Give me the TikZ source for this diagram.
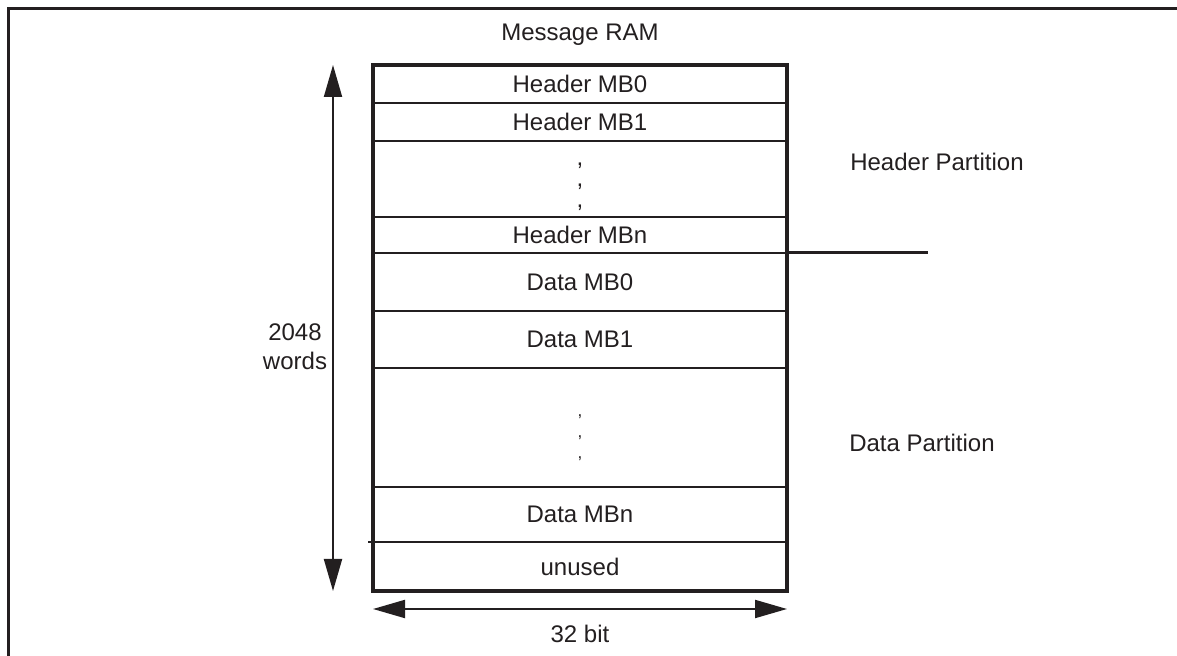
\documentclass[tikz,border=0pt]{standalone}
\usepackage{fontspec}
\setmainfont{Liberation Sans}
\usepackage{tikz}
\usepackage{xcolor}
\usetikzlibrary{positioning, arrows.meta}
\definecolor{ink}{HTML}{231F20}
\tikzset{row/.style={draw=ink, line width=0.8pt, minimum width=207pt, inner sep=0pt, outer sep=0pt, text=ink},
label/.style={text=ink, align=center, inner sep=0pt},
dim/.style={draw=ink, line width=1pt, {Triangle[length=16pt,width=9pt]}-{Triangle[length=16pt,width=9pt]}}
}

\begin{document}
\begin{tikzpicture}[x=0.5pt, y=-0.5pt, font=\fontsize{12}{14.5}\selectfont]
\useasboundingbox (0,0) rectangle (1177,656);
% outer frame
\draw[ink, line width=1.5pt] (8,656) -- (8,9) -- (1200,9);
% rows of the message RAM
\node[row, minimum height=19pt] (hmb0) at (580,84) {Header MB0};
\node[row, minimum height=19pt, below=0pt of hmb0] (hmb1) {Header MB1};
\node[row, minimum height=38pt, below=0pt of hmb1] (hdots) {};
\node[row, minimum height=18pt, below=0pt of hdots] (hmbn) {Header MBn};
\node[row, minimum height=29pt, below=0pt of hmbn] (dmb0) {Data MB0};
\node[row, minimum height=28.5pt, below=0pt of dmb0] (dmb1) {Data MB1};
\node[row, minimum height=59.5pt, below=0pt of dmb1] (ddots) {};
\node[row, minimum height=27.5pt, below=0pt of ddots] (dmbn) {Data MBn};
\node[row, minimum height=24.5pt, below=0pt of dmbn] (unused) {unused};
\node[label, font=\fontsize{12}{10.5}\selectfont] at ([yshift=-4pt]hdots.center) {,\\,\\,};
\node[label, font=\fontsize{8.5}{10.5}\selectfont] at ([yshift=-5pt]ddots.center) {,\\,\\,};
\draw[ink, line width=2pt] (hmb0.north west) rectangle (unused.south east);
 % partition line and small tick
\coordinate (part) at ([xshift=70.5pt]hmbn.south east);
\draw[ink, line width=1.5pt] (hmbn.south east) -- (part);
\coordinate (tick) at ([xshift=-2.5pt]dmbn.south west);
\draw[ink, line width=0.8pt] (tick) -- (dmbn.south west);
% dimension arrows
\coordinate (vtop) at ([xshift=-20pt]hmb0.north west);
\coordinate (vbot) at ([xshift=-20pt]unused.south west);
\draw[dim] (vtop) -- (vbot);
\coordinate (hleft) at ([yshift=-9pt]unused.south west);
\coordinate (hright) at ([yshift=-9pt]unused.south east);
\draw[dim] (hleft) -- (hright);
% labels
\node[label] (title) at (580,35) {Message RAM};
\node[label] (size) at (295,347) {2048\\words};
\node[label] (width) at (580,634) {32 bit};
\node[label] (hpart) at (937,162) {Header Partition};
\node[label] (dpart) at (922,443) {Data Partition};
\end{tikzpicture}
\end{document}
